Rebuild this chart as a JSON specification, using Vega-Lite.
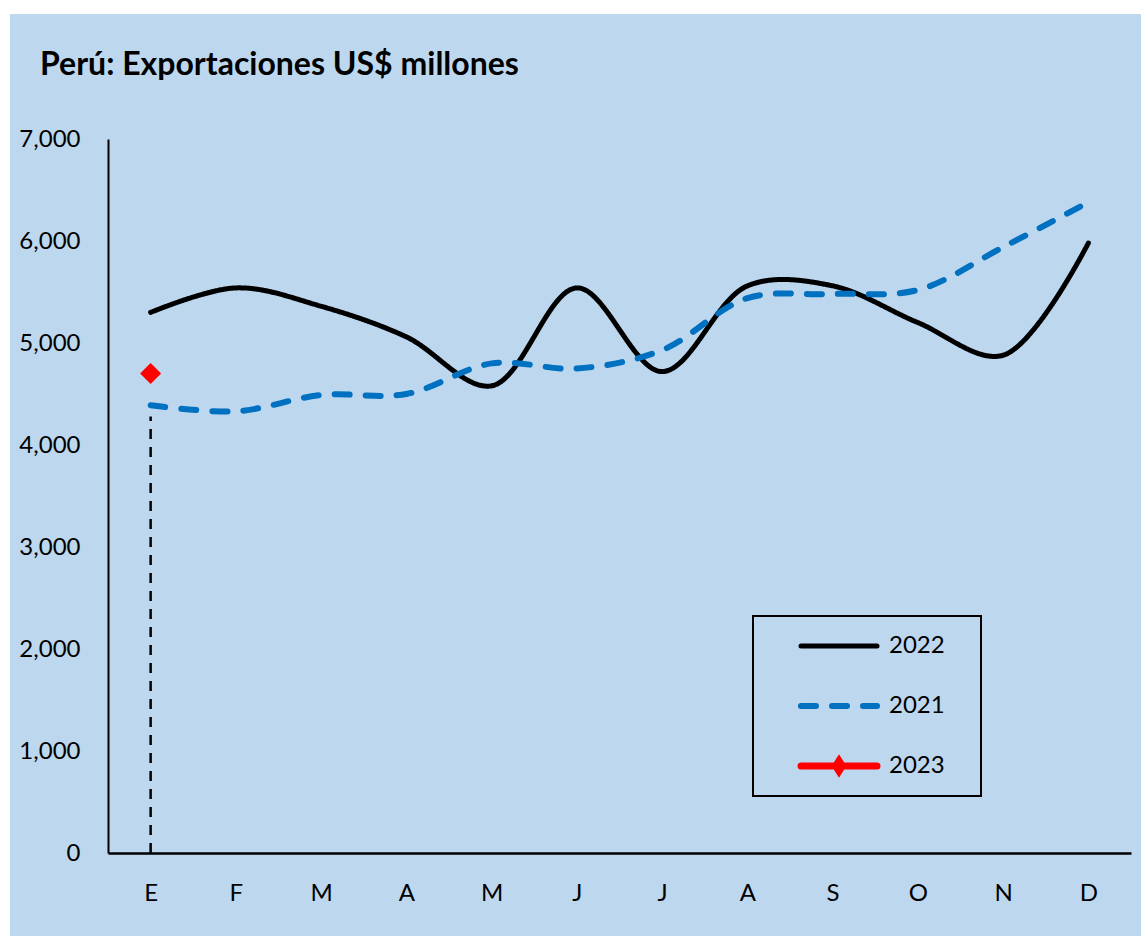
{
  "$schema": "https://vega.github.io/schema/vega-lite/v6.json",
  "autosize": {"type": "none"},
  "padding": {"left": 10, "top": 14, "right": 0, "bottom": 0},
  "width": 1131,
  "height": 922,
  "background": "#FFFFFF",
  "config": {
    "view": {"fill": "#BDD7EE", "stroke": null},
    "font": "Lato",
    "axis": {"grid": false, "ticks": false, "tickSize": 0, "domainColor": "#000000", "domainWidth": 2, "labelFont": "Lato", "labelFontSize": 24, "labelColor": "#000000", "title": null}
  },
  "title": {"text": "Perú: Exportaciones US$ millones", "anchor": "start", "frame": "group", "font": "Lato", "fontSize": 32, "fontWeight": "bold", "color": "#000000", "offset": -68, "dx": 30},
  "datasets": {
    "series": [
      {"m": 1, "serie": "2022", "v": 5300}, {"m": 2, "serie": "2022", "v": 5540}, {"m": 3, "serie": "2022", "v": 5360}, {"m": 4, "serie": "2022", "v": 5060},
      {"m": 5, "serie": "2022", "v": 4580}, {"m": 6, "serie": "2022", "v": 5540}, {"m": 7, "serie": "2022", "v": 4720}, {"m": 8, "serie": "2022", "v": 5560},
      {"m": 9, "serie": "2022", "v": 5560}, {"m": 10, "serie": "2022", "v": 5200}, {"m": 11, "serie": "2022", "v": 4880}, {"m": 12, "serie": "2022", "v": 5980},
      {"m": 1, "serie": "2021", "v": 4390}, {"m": 2, "serie": "2021", "v": 4330}, {"m": 3, "serie": "2021", "v": 4490}, {"m": 4, "serie": "2021", "v": 4500},
      {"m": 5, "serie": "2021", "v": 4800}, {"m": 6, "serie": "2021", "v": 4750}, {"m": 7, "serie": "2021", "v": 4930}, {"m": 8, "serie": "2021", "v": 5440},
      {"m": 9, "serie": "2021", "v": 5480}, {"m": 10, "serie": "2021", "v": 5520}, {"m": 11, "serie": "2021", "v": 5940}, {"m": 12, "serie": "2021", "v": 6380},
      {"m": 1, "serie": "2023", "v": 4700}
    ],
    "drop": [{"m": 1, "ini": 0, "fin": 4280}]
  },
  "encoding": {
    "x": {"field": "m", "type": "ordinal", "scale": {"type": "point", "padding": 0.5, "range": [98, 1121]},
      "axis": {"labelAngle": 0, "labelPadding": 28, "offset": -83, "labelExpr": "['E','F','M','A','M','J','J','A','S','O','N','D'][datum.value - 1]", "domainWidth": 2.5}}
  },
  "layer": [
    {
      "data": {"name": "series"},
      "mark": {"type": "line", "interpolate": "catmull-rom", "strokeCap": "round", "strokeJoin": "round"},
      "encoding": {
        "y": {"field": "v", "type": "quantitative", "scale": {"domain": [0, 7000], "range": [839, 125], "nice": false, "zero": false},
          "axis": {"values": [0, 1000, 2000, 3000, 4000, 5000, 6000, 7000], "format": ",.0f", "labelPadding": 28, "offset": -98}},
        "color": {"field": "serie", "type": "nominal", "scale": {"domain": ["2022", "2021", "2023"], "range": ["#000000", "#0070C0", "#FF0000"]},
          "legend": {"orient": "none", "legendX": 743, "legendY": 602, "title": null, "padding": 18, "rowPadding": 36, "clipHeight": 24,
            "strokeColor": "#000000",
            "symbolType": "M-4,0H4", "symbolSize": 361, "symbolStrokeWidth": 6.5, "symbolOffset": 55, "labelOffset": 37,
            "labelFont": "Lato", "labelFontSize": 24, "labelColor": "#000000",
            "labelExpr": "datum.label + '\u2800'",
            "encode": {
              "legend": {"update": {"strokeWidth": {"value": 2}}},
              "symbols": {"update": {
              "shape": [{"test": "datum.value === '2023'", "value": "M-4,0H4M0,-0.55L0.35,0L0,0.55L-0.35,0Z"}, {"value": "M-4,0H4"}],
              "fill": [{"test": "datum.value === '2023'", "value": "#FF0000"}, {"value": "transparent"}],
              "strokeCap": {"value": "round"}
            }}}}},
        "strokeDash": {"field": "serie", "type": "nominal", "scale": {"domain": ["2022", "2021", "2023"], "range": [[1, 0], [15, 16], [1, 0]]}},
        "strokeWidth": {"field": "serie", "type": "nominal", "scale": {"domain": ["2022", "2021", "2023"], "range": [5, 7, 5]}, "legend": null}
      }
    },
    {
      "data": {"name": "drop"},
      "mark": {"type": "rule", "color": "#000000", "strokeWidth": 2.5, "strokeDash": [10, 8]},
      "encoding": {
        "y": {"field": "ini", "type": "quantitative"},
        "y2": {"field": "fin"}
      }
    },
    {
      "data": {"name": "series"},
      "transform": [{"filter": "datum.serie === '2023'"}],
      "mark": {"type": "point", "shape": "diamond", "filled": true, "size": 441, "color": "#FF0000", "opacity": 1},
      "encoding": {
        "y": {"field": "v", "type": "quantitative"}
      }
    }
  ]
}
